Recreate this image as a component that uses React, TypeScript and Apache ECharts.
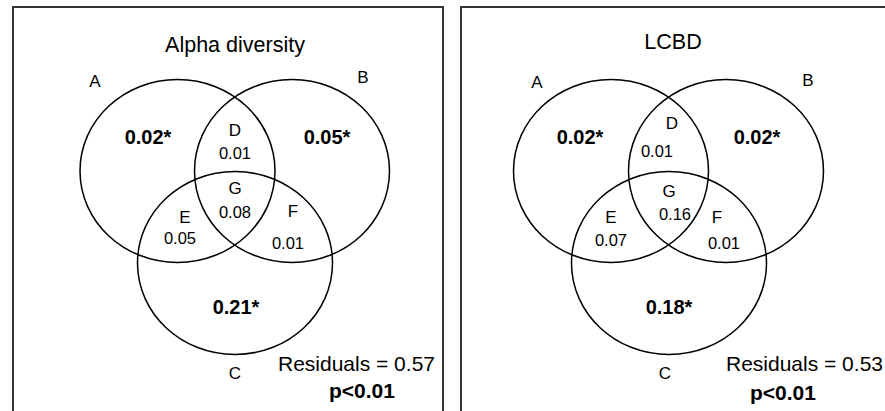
import React, { useEffect, useRef } from "react";
import * as echarts from "echarts";

// ---- data ----
const panelTitles = ["Alpha diversity", "LCBD"];
const setLabels = ["A", "B", "C"];
const overlapLabels = ["D", "E", "F", "G"];
const alphaUnique = [0.02, 0.05, 0.21]; // A, B, C
const alphaShared = [0.01, 0.05, 0.01, 0.08]; // D, E, F, G
const lcbdUnique = [0.02, 0.02, 0.18];
const lcbdShared = [0.01, 0.07, 0.01, 0.16];
const uniqueSignificant = [true, true, true];
const residuals = [0.57, 0.53];
const pLabels = ["p<0.01", "p<0.01"];

// ---- layout (pixels) ----
const FONT = "'Liberation Sans', Arial, sans-serif";
const circleLayout = [
  [
    [177.5, 171],
    [292, 171],
    [235, 263],
  ],
  [
    [611, 171],
    [726, 171],
    [669, 263],
  ],
];
const RX = 97.5;
const RY = 91.5;
const panelLayout = [
  {
    title: [235, 45],
    setLbl: [[95, 81], [363, 77], [235, 373]],
    uniq: [[148, 137], [327, 137], [236, 307]],
    ovLetter: [[235, 130], [185, 217], [293, 211], [235, 188]],
    ovValue: [[235, 153], [180, 238], [288, 243], [235, 212]],
    resid: [435, 363],
    p: [362, 390],
    frame: [13, 7],
  },
  {
    title: [673, 42],
    setLbl: [[537, 82], [808, 80], [665, 373]],
    uniq: [[580, 137], [757, 137], [669, 307]],
    ovLetter: [[672, 123], [611, 217], [717, 217], [669, 191]],
    ovValue: [[657, 151], [611, 240], [724, 243], [675, 214]],
    resid: [883, 363],
    p: [783, 392],
    frame: [461, 7],
  },
];

type Item =
  | { kind: "ellipse"; x: number; y: number }
  | {
      kind: "text";
      x: number;
      y: number;
      text: string;
      size: number;
      bold?: boolean;
      align?: string;
    };

function buildItems(): Item[] {
  const items: Item[] = [];
  const uniques = [alphaUnique, lcbdUnique];
  const shared = [alphaShared, lcbdShared];
  for (let p = 0; p < 2; p++) {
    const L = panelLayout[p];
    circleLayout[p].forEach(([x, y]) => items.push({ kind: "ellipse", x, y }));
    items.push({ kind: "text", x: L.title[0], y: L.title[1], text: panelTitles[p], size: 21.5 });
    setLabels.forEach((s, i) =>
      items.push({ kind: "text", x: L.setLbl[i][0], y: L.setLbl[i][1], text: s, size: 17 })
    );
    uniques[p].forEach((v, i) =>
      items.push({
        kind: "text",
        x: L.uniq[i][0],
        y: L.uniq[i][1],
        text: v.toFixed(2) + (uniqueSignificant[i] ? "*" : ""),
        size: 20,
        bold: true,
      })
    );
    overlapLabels.forEach((s, i) => {
      items.push({ kind: "text", x: L.ovLetter[i][0], y: L.ovLetter[i][1], text: s, size: 17 });
      items.push({
        kind: "text",
        x: L.ovValue[i][0],
        y: L.ovValue[i][1],
        text: shared[p][i].toFixed(2),
        size: 16.5,
      });
    });
    items.push({
      kind: "text",
      x: L.resid[0],
      y: L.resid[1],
      text: "Residuals = " + residuals[p].toFixed(2),
      size: 21,
      align: "right",
    });
    items.push({ kind: "text", x: L.p[0], y: L.p[1], text: pLabels[p], size: 21, bold: true });
  }
  return items;
}

export default function App() {
  const ref = useRef<HTMLDivElement>(null);
  useEffect(() => {
    if (!ref.current) return;
    const chart = echarts.init(ref.current, undefined, { renderer: "svg" });
    const items = buildItems();
    chart.setOption({
      animation: false,
      backgroundColor: "#ffffff",
      grid: { left: 0, right: 0, top: 0, bottom: 0 },
      xAxis: { type: "value", min: 0, max: 885, show: false },
      yAxis: { type: "value", min: 0, max: 411, inverse: true, show: false },
      graphic: panelLayout.map((L) => ({
        type: "rect",
        shape: { x: L.frame[0], y: L.frame[1], width: 430, height: 440 },
        style: { fill: "none", stroke: "#333333", lineWidth: 2 },
        z: 0,
      })),
      series: [
        {
          type: "custom",
          clip: false,
          data: items.map((it) => [it.x, it.y]),
          renderItem: (params: any, api: any) => {
            const it = items[params.dataIndex];
            const pt = api.coord([api.value(0), api.value(1)]);
            if (it.kind === "ellipse") {
              const sz = api.size([RX, RY]);
              return {
                type: "ellipse",
                shape: { cx: pt[0], cy: pt[1], rx: sz[0], ry: sz[1] },
                style: { fill: "none", stroke: "#000", lineWidth: 1.5 },
              };
            }
            return {
              type: "text",
              style: {
                text: it.text,
                x: pt[0],
                y: pt[1],
                fill: "#000",
                fontSize: it.size,
                fontWeight: it.bold ? "bold" : "normal",
                fontFamily: FONT,
                align: it.align || "center",
                verticalAlign: "middle",
              },
            };
          },
        },
      ],
    });
    return () => chart.dispose();
  }, []);
  return (
    <div
      ref={ref}
      style={{ position: "fixed", left: 0, top: 0, width: 885, height: 411, background: "#fff" }}
    />
  );
}
